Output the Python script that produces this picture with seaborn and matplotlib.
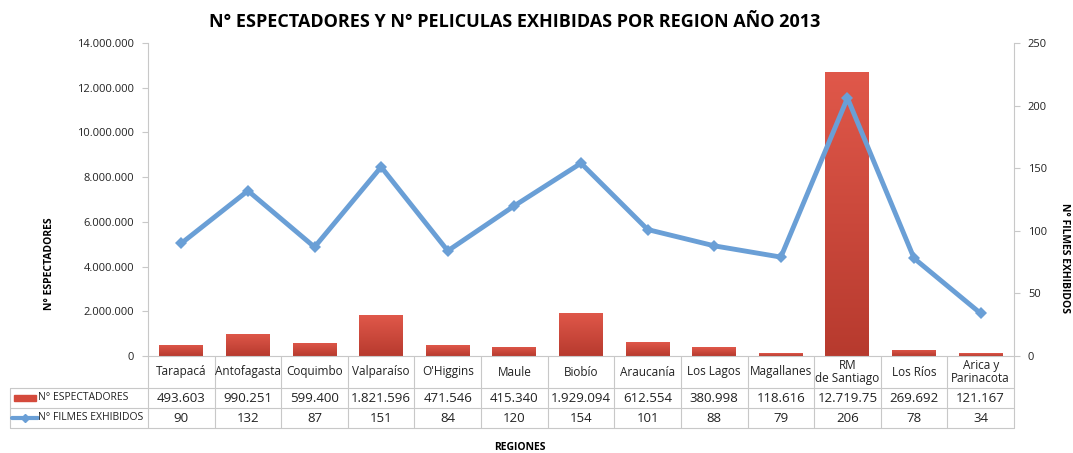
import numpy as np
import pandas as pd
import matplotlib
matplotlib.use("Agg")
import matplotlib.pyplot as plt
import matplotlib.ticker as mticker
from matplotlib.colors import LinearSegmentedColormap
import seaborn as sns

regiones = ["Tarapacá", "Antofagasta", "Coquimbo", "Valparaíso", "O'Higgins", "Maule",
            "Biobío", "Araucanía", "Los Lagos", "Magallanes", "RM\nde Santiago",
            "Los Ríos", "Arica y\nParinacota"]
espectadores = [493603, 990251, 599400, 1821596, 471546, 415340,
                1929094, 612554, 380998, 118616, 12719750, 269692, 121167]
filmes = [90, 132, 87, 151, 84, 120, 154, 101, 88, 79, 206, 78, 34]

df = pd.DataFrame({"region": regiones, "esp": espectadores, "fil": filmes})

sns.set_style("white")
plt.rcParams["font.family"] = ["Open Sans", "DejaVu Sans"]

W, H = 1073, 453
fig = plt.figure(figsize=(W / 100, H / 100), dpi=100)
x0, x1, ytop, y0 = 148, 1014, 43, 356
ax = fig.add_axes([x0 / W, 1 - y0 / H, (x1 - x0) / W, (y0 - ytop) / H])

red = "#d44a3c"
blue = "#6a9fd6"
grey = "#c8c8c8"

sns.barplot(data=df, x="region", y="esp", color=red, width=0.66, saturation=1, ax=ax)

# gradient fill in the bars (lighter on top)
cmap = LinearSegmentedColormap.from_list("g", ["#b73a2e", "#e0584a"])
grad = np.linspace(0, 1, 256).reshape(-1, 1)
for p in ax.patches:
    bx, by = p.get_x(), p.get_y()
    bw, bh = p.get_width(), p.get_height()
    im = ax.imshow(grad, cmap=cmap, origin="lower", aspect="auto",
                   extent=[bx, bx + bw, by, by + bh], zorder=2)
    im.set_clip_path(p)
    p.set_edgecolor("none")
ax.set_xlim(-0.5, len(regiones) - 0.5)
ax.set_ylim(0, 14000000)
ax.yaxis.set_major_locator(mticker.MultipleLocator(2000000))
ax.yaxis.set_major_formatter(mticker.FuncFormatter(lambda v, p: f"{int(v):,}".replace(",", ".")))

ax2 = ax.twinx()
sns.lineplot(x=np.arange(len(regiones)), y=df["fil"], color=blue, linewidth=3.5,
             marker="D", markersize=6, markeredgewidth=0, ax=ax2, zorder=5)
ax2.set_ylim(0, 250)
ax2.yaxis.set_major_locator(mticker.MultipleLocator(50))
ax2.set_xlim(-0.5, len(regiones) - 0.5)

for a in (ax, ax2):
    for s in a.spines.values():
        s.set_visible(False)
    a.set_xlabel("")
    a.set_ylabel("")
    a.tick_params(axis="y", labelsize=8, colors="#222222", length=4, width=0.8)
    a.tick_params(axis="y", color=grey)
ax.set_xticks([])
ax2.set_xticks([])
ax.spines["left"].set_visible(True)
ax.spines["left"].set_color(grey)
ax.spines["bottom"].set_visible(True)
ax.spines["bottom"].set_color(grey)
ax2.spines["right"].set_visible(True)
ax2.spines["right"].set_color(grey)
ax.tick_params(axis="y", pad=6)
ax2.tick_params(axis="y", pad=6)

# data table below the plot
n = len(regiones)
cw = (x1 - x0) / n
rows = [356, 388, 408, 428]
lab_left = 10
lw = 0.8

def L(xa, ya, xb, yb):
    fig.add_artist(plt.Line2D([xa / W, xb / W], [1 - ya / H, 1 - yb / H], color=grey, lw=lw))

for i in range(n + 1):
    L(x0 + i * cw, rows[0], x0 + i * cw, rows[3])
for r in rows[1:]:
    L(lab_left, r, x1, r)
L(lab_left, rows[1], lab_left, rows[3])

def fmt(v):
    s = f"{v:,}".replace(",", ".")
    return s[:9]

for i, reg in enumerate(regiones):
    cx = (x0 + (i + 0.5) * cw) / W
    fig.text(cx, 1 - (rows[0] + rows[1]) / 2 / H, reg, ha="center", va="center",
             fontsize=8.5, color="#222222", linespacing=1.0)
    fig.text(cx, 1 - (rows[1] + rows[2]) / 2 / H, fmt(espectadores[i]), ha="center",
             va="center", fontsize=9.5, color="#222222")
    fig.text(cx, 1 - (rows[2] + rows[3]) / 2 / H, str(filmes[i]), ha="center",
             va="center", fontsize=9.5, color="#222222")

# legend keys in the table
ym = (rows[1] + rows[2]) / 2
fig.patches.append(plt.Rectangle((14 / W, 1 - (ym + 3) / H), 22 / W, 6 / H,
                                 transform=fig.transFigure, color=red, figure=fig))
fig.text(38 / W, 1 - ym / H, "N° ESPECTADORES", ha="left", va="center", fontsize=7.5, color="#222222")
ym2 = (rows[2] + rows[3]) / 2
fig.add_artist(plt.Line2D([12 / W, 38 / W], [1 - ym2 / H, 1 - ym2 / H], color=blue, lw=3))
fig.add_artist(plt.Line2D([25 / W], [1 - ym2 / H], color=blue, marker="D", markersize=4, lw=0))
fig.text(38 / W, 1 - ym2 / H, "N° FILMES EXHIBIDOS", ha="left", va="center", fontsize=7.5, color="#222222")

fig.text(515 / W, 1 - 22 / H, "N° ESPECTADORES Y N° PELICULAS EXHIBIDAS POR REGION AÑO 2013",
         ha="center", va="center", fontsize=13, fontweight="bold", color="black")
fig.text(50 / W, 1 - 264 / H, "N° ESPECTADORES", ha="center", va="center", rotation=90,
         fontsize=7.5, fontweight="bold", color="black")
fig.text(1064 / W, 1 - 258 / H, "N° FILMES EXHIBIDOS", ha="center", va="center", rotation=-90,
         fontsize=7.5, fontweight="bold", color="black")
fig.text(520 / W, 1 - 448 / H, "REGIONES", ha="center", va="center",
         fontsize=7.5, fontweight="bold", color="black")

fig.savefig("out.png", dpi=100)
